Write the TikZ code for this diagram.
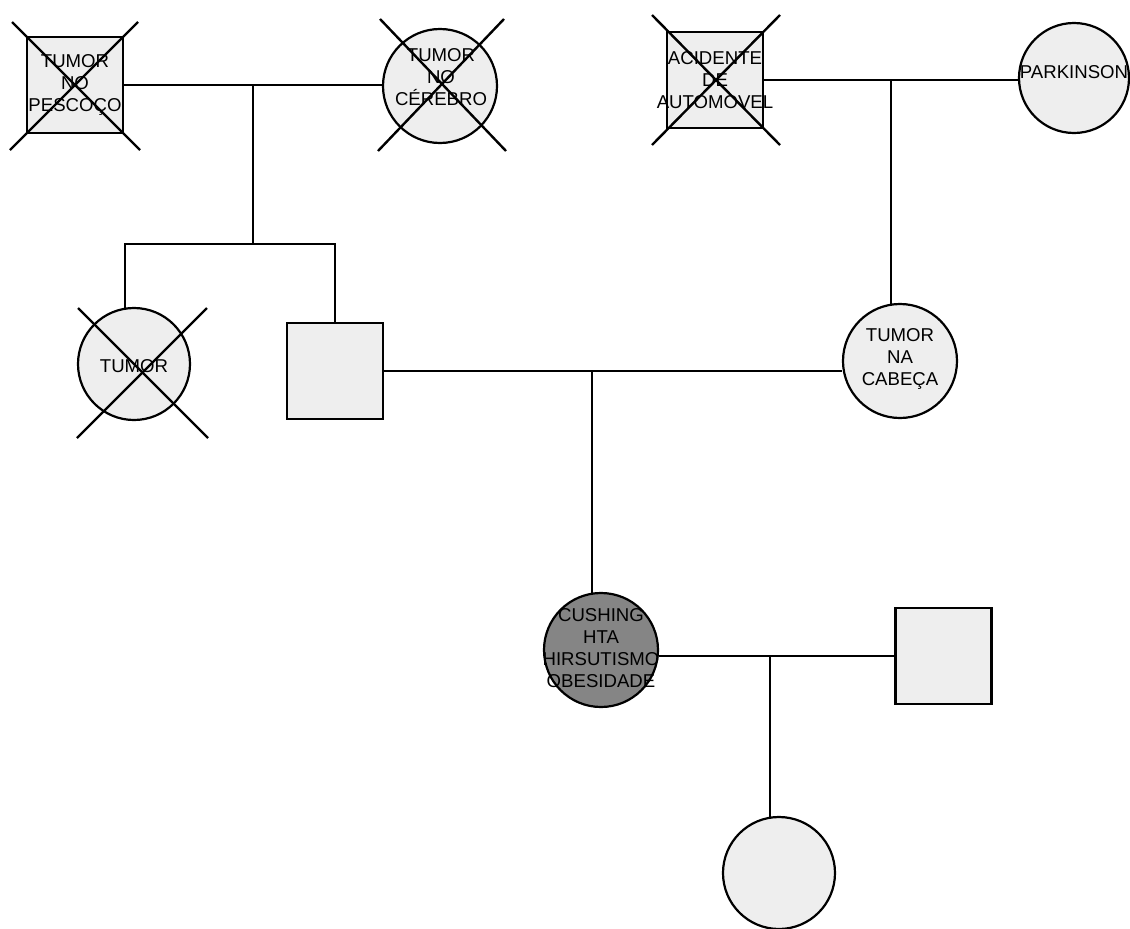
\documentclass[tikz,border=0pt]{standalone}
\usepackage{fontspec}
\setmainfont{Liberation Sans}
\usetikzlibrary{calc}
\tikzset{
  lbl/.style={font=\fontsize{18.6}{22}\selectfont, align=center, inner sep=0pt, text=black},
  female/.style={circle, draw=black, line width=2.2pt, fill=gray!13, minimum size=114pt, inner sep=0pt},
  male/.style={rectangle, draw=black, line width=2.2pt, fill=gray!13, minimum size=96pt, inner sep=0pt},
  affected/.style={fill=black!48},
  conn/.style={draw=black, line width=1.8pt},
  xline/.style={draw=black, line width=2.4pt}
}
\begin{document}
\begin{tikzpicture}[x=1pt,y=-1pt]
\useasboundingbox (0,0) rectangle (1130,929);

% generation I
\node[male]   (sq1)  at (75,85) {};
\node[female] (c2)   at (440,86) {};
\node[male]   (acid) at (715,80) {};
\node[female, minimum size=110pt] (park) at (1074,78) {};

% generation II
\node[female, minimum size=112pt] (tumor)  at (134,364) {};
\node[male]   (father) at (335,371) {};
\node[female] (cabeca) at (900,361) {};

% generation III
\node[female, affected] (cush) at (601,650) {};
\node[male] (husband) at (943.5,656) {};

% generation IV
\node[female, minimum size=112pt] (bot) at (779,873) {};

% texts
\node[lbl] (t1) at (75,85) {TUMOR\\NO\\PESCOÇO};
\node[lbl] (t2) at (441,77) {TUMOR\\NO\\CÉREBRO};
\node[lbl] (t3) at (715,80) {ACIDENTE\\DE\\AUTOMOVEL};
\node[lbl] (t4) at (1074,72) {PARKINSON};
\node[lbl] (t5) at (134,366) {TUMOR};
\node[lbl] (t6) at (900,359) {TUMOR\\NA\\CABEÇA};
\node[lbl] (t7) at (601,648) {CUSHING\\HTA\\HIRSUTISMO\\OBESIDADE};

% crosses (deceased)
\draw[xline] (sq1.center) ++(-63,-63) -- ++(128,128);
\draw[xline] (sq1.center) ++(63,-63) -- ++(-128,128);
\draw[xline] (c2.center) ++(-60,-67) -- ++(126,132);
\draw[xline] (c2.center) ++(64,-67) -- ++(-126,132);
\draw[xline] (acid.center) ++(-63,-65) -- ++(128,130);
\draw[xline] (acid.center) ++(65,-65) -- ++(-128,130);
\draw[xline] (tumor.center) ++(-56,-56) -- ++(130,130);
\draw[xline] (tumor.center) ++(73,-56) -- ++(-130,130);

% connectors
\draw[conn] (sq1.east) -- (sq1.east -| c2.west);
\coordinate (m1) at (253,85);
\coordinate (s1) at (253,244);
\draw[conn] (m1) -- (s1);
\draw[conn] (tumor.99) |- (s1) -| (father.north);

\draw[conn] (acid.east) -- (acid.east -| park.west);
\coordinate (m4) at (cabeca.99 |- acid.east);
\draw[conn] (m4) -- (cabeca.99);

\draw[conn] (father.east) -- (father.east -| cabeca.west);
\coordinate (m2) at (cush.99 |- father.east);
\draw[conn] (m2) -- (cush.99);

\draw[conn] (husband.west) -- (husband.west -| cush.east);
\coordinate (m3) at (bot.99 |- husband.west);
\draw[conn] (m3) -- (bot.99);
\end{tikzpicture}
\end{document}
